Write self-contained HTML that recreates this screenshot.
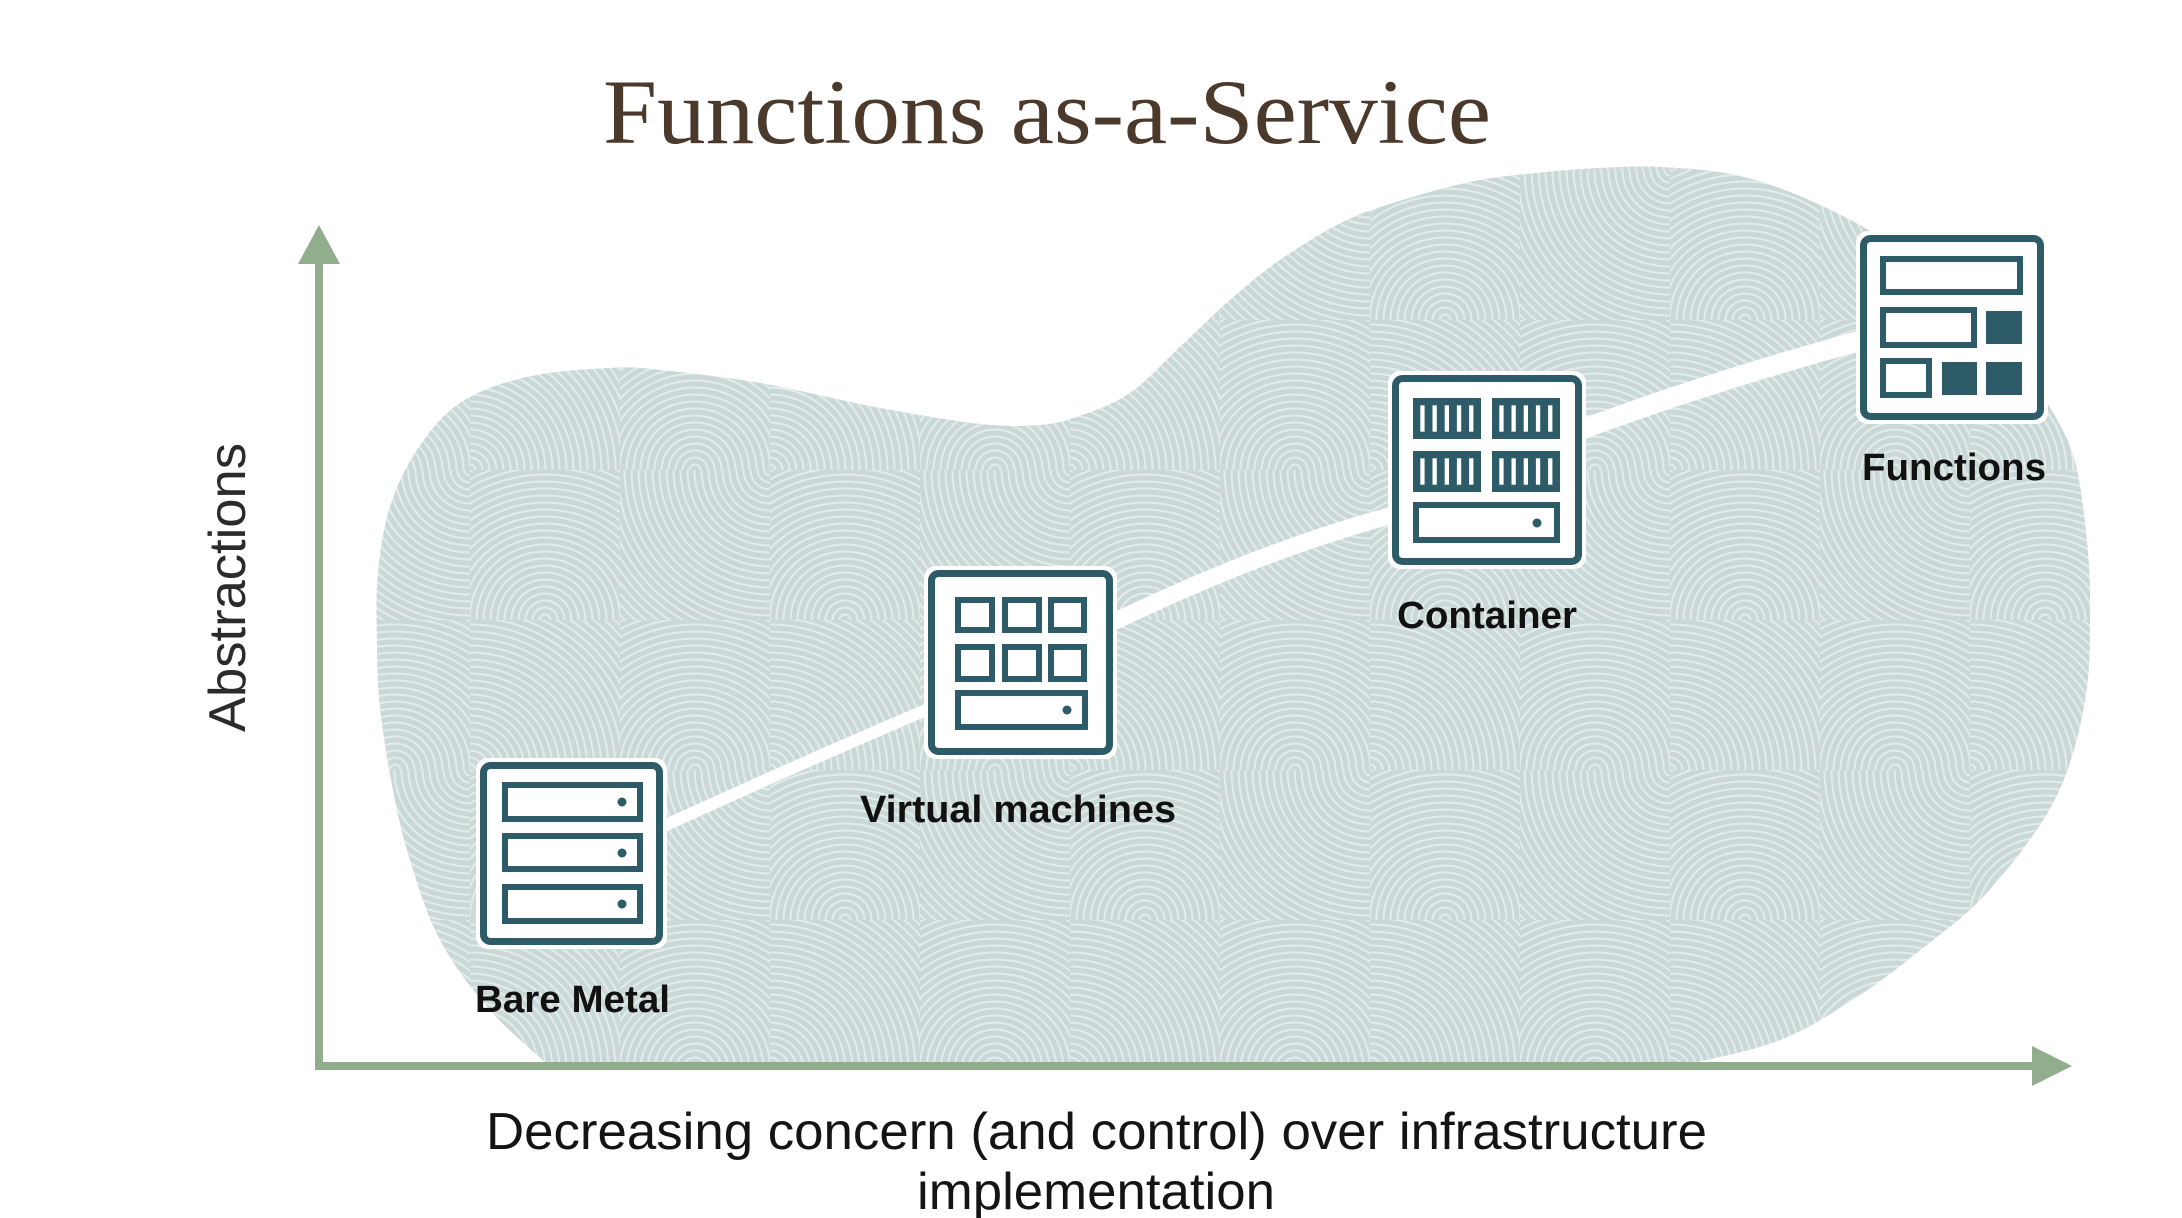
<!DOCTYPE html>
<html>
<head>
<meta charset="utf-8">
<style>
  html, body { margin: 0; padding: 0; background: #ffffff; }
  body { width: 2182px; height: 1218px; overflow: hidden; }
  svg { display: block; }
</style>
</head>
<body>
<svg width="2182" height="1218" viewBox="0 0 2182 1218" xmlns="http://www.w3.org/2000/svg">
  <defs>
    <radialGradient id="r1" gradientUnits="userSpaceOnUse" cx="75" cy="150" r="7" spreadMethod="repeat">
      <stop offset="0" stop-color="#cad9d7"/><stop offset="0.6" stop-color="#cad9d7"/>
      <stop offset="0.66" stop-color="#e2ecea"/><stop offset="0.9" stop-color="#e2ecea"/>
      <stop offset="0.96" stop-color="#cad9d7"/><stop offset="1" stop-color="#cad9d7"/>
    </radialGradient>
    <radialGradient id="r2" gradientUnits="userSpaceOnUse" cx="150" cy="150" r="7" spreadMethod="repeat">
      <stop offset="0" stop-color="#cad9d7"/><stop offset="0.6" stop-color="#cad9d7"/>
      <stop offset="0.66" stop-color="#e2ecea"/><stop offset="0.9" stop-color="#e2ecea"/>
      <stop offset="0.96" stop-color="#cad9d7"/><stop offset="1" stop-color="#cad9d7"/>
    </radialGradient>
    <radialGradient id="r3" gradientUnits="userSpaceOnUse" cx="150" cy="150" r="7" spreadMethod="repeat">
      <stop offset="0" stop-color="#cad9d7"/><stop offset="0.6" stop-color="#cad9d7"/>
      <stop offset="0.66" stop-color="#e2ecea"/><stop offset="0.9" stop-color="#e2ecea"/>
      <stop offset="0.96" stop-color="#cad9d7"/><stop offset="1" stop-color="#cad9d7"/>
    </radialGradient>
    <radialGradient id="r4" gradientUnits="userSpaceOnUse" cx="225" cy="300" r="7" spreadMethod="repeat">
      <stop offset="0" stop-color="#cad9d7"/><stop offset="0.6" stop-color="#cad9d7"/>
      <stop offset="0.66" stop-color="#e2ecea"/><stop offset="0.9" stop-color="#e2ecea"/>
      <stop offset="0.96" stop-color="#cad9d7"/><stop offset="1" stop-color="#cad9d7"/>
    </radialGradient>
    <pattern id="tex" patternUnits="userSpaceOnUse" x="20" y="20" width="300" height="300">
      <rect x="0" y="0" width="150" height="150" fill="url(#r1)"/>
      <rect x="150" y="0" width="150" height="150" fill="url(#r2)"/>
      <rect x="0" y="150" width="150" height="150" fill="url(#r3)"/>
      <rect x="150" y="150" width="150" height="150" fill="url(#r4)"/>
    </pattern>
    <clipPath id="abovex">
      <rect x="0" y="0" width="2182" height="1066"/>
    </clipPath>
  </defs>

  <!-- Title -->
  <text x="603" y="143" font-family="'Liberation Serif', 'DejaVu Serif', serif" font-size="92" fill="#4b3a2c" textLength="888" lengthAdjust="spacingAndGlyphs">Functions as-a-Service</text>

  <!-- Blob -->
  <g clip-path="url(#abovex)">
    <path id="blobA" fill="#cfdcda" d="M549,1066 L490,1010 L440,940 L410,860 L393,790 L380,707 L377,640 L378,573 L390,507 L417,450 L460,403 L527,377 L610,368 L660,370 L760,383 L880,408 L980,424 L1040,425 L1080,416 L1130,393 L1180,347 L1230,300 L1280,260 L1347,220 L1413,197 L1480,180 L1547,172 L1600,168 L1660,167 L1740,176 L1820,205 L1900,250 L1970,310 L2030,380 L2060,425 L2077,470 L2088,553 L2090,620 L2087,687 L2073,753 L2053,803 L2020,853 L1977,903 L1933,940 L1860,995 L1780,1040 L1682,1066 Z"/>
    <path id="blobB" fill="url(#tex)" d="M549,1066 L490,1010 L440,940 L410,860 L393,790 L380,707 L377,640 L378,573 L390,507 L417,450 L460,403 L527,377 L610,368 L660,370 L760,383 L880,408 L980,424 L1040,425 L1080,416 L1130,393 L1180,347 L1230,300 L1280,260 L1347,220 L1413,197 L1480,180 L1547,172 L1600,168 L1660,167 L1740,176 L1820,205 L1900,250 L1970,310 L2030,380 L2060,425 L2077,470 L2088,553 L2090,620 L2087,687 L2073,753 L2053,803 L2020,853 L1977,903 L1933,940 L1860,995 L1780,1040 L1682,1066 Z"/>
  </g>

  <!-- White curve -->
  <path d="M655,830 Q790,768 940,704" fill="none" stroke="#ffffff" stroke-width="12" stroke-linecap="round"/>
  <path d="M1105,626 C1180,590 1280,545 1400,513" fill="none" stroke="#ffffff" stroke-width="17" stroke-linecap="round"/>
  <path d="M1575,432 C1660,400 1760,368 1870,338" fill="none" stroke="#ffffff" stroke-width="20" stroke-linecap="round"/>

  <!-- Axes -->
  <rect x="315" y="262" width="8" height="808" fill="#90ae8c"/>
  <polygon points="298,264 340,264 319,225" fill="#90ae8c"/>
  <rect x="315" y="1062" width="1720" height="8" fill="#90ae8c"/>
  <polygon points="2032,1046 2032,1086 2072,1066" fill="#90ae8c"/>

  <!-- Bare Metal icon -->
  <g>
    <rect x="476" y="758" width="191" height="191" rx="12" fill="#ffffff"/>
    <rect x="483.5" y="765.5" width="176" height="176" rx="7" fill="#ffffff" stroke="#2d5c68" stroke-width="7"/>
    <rect x="505" y="785" width="135" height="34" fill="none" stroke="#2d5c68" stroke-width="6"/>
    <rect x="505" y="836" width="135" height="33" fill="none" stroke="#2d5c68" stroke-width="6"/>
    <rect x="505" y="887" width="135" height="34" fill="none" stroke="#2d5c68" stroke-width="6"/>
    <circle cx="622" cy="802" r="4.5" fill="#2d5c68"/>
    <circle cx="622" cy="853" r="4.5" fill="#2d5c68"/>
    <circle cx="622" cy="904" r="4.5" fill="#2d5c68"/>
  </g>

  <!-- Virtual machines icon -->
  <g>
    <rect x="924" y="566" width="193" height="193" rx="12" fill="#ffffff"/>
    <rect x="931.5" y="573.5" width="178" height="178" rx="7" fill="#ffffff" stroke="#2d5c68" stroke-width="7"/>
    <rect x="958" y="600" width="34" height="30" fill="none" stroke="#2d5c68" stroke-width="6"/>
    <rect x="1005" y="600" width="34" height="30" fill="none" stroke="#2d5c68" stroke-width="6"/>
    <rect x="1051" y="600" width="33" height="30" fill="none" stroke="#2d5c68" stroke-width="6"/>
    <rect x="958" y="647" width="34" height="32" fill="none" stroke="#2d5c68" stroke-width="6"/>
    <rect x="1005" y="647" width="34" height="32" fill="none" stroke="#2d5c68" stroke-width="6"/>
    <rect x="1051" y="647" width="33" height="32" fill="none" stroke="#2d5c68" stroke-width="6"/>
    <rect x="958" y="693" width="127" height="34" fill="none" stroke="#2d5c68" stroke-width="6"/>
    <circle cx="1067" cy="710" r="4.5" fill="#2d5c68"/>
  </g>

  <!-- Container icon -->
  <g>
    <rect x="1388" y="371" width="198" height="198" rx="12" fill="#ffffff"/>
    <rect x="1395.5" y="378.5" width="183" height="183" rx="7" fill="#ffffff" stroke="#2d5c68" stroke-width="7"/>
    <rect x="1413" y="398" width="68" height="41" fill="#2d5c68"/>
    <rect x="1492" y="398" width="68" height="41" fill="#2d5c68"/>
    <rect x="1413" y="451" width="68" height="41" fill="#2d5c68"/>
    <rect x="1492" y="451" width="68" height="41" fill="#2d5c68"/>
    <g fill="#ffffff">
      <rect x="1420.3" y="405.3" width="4.3" height="26.4"/>
      <rect x="1432.5" y="405.3" width="4.3" height="26.4"/>
      <rect x="1444.7" y="405.3" width="4.3" height="26.4"/>
      <rect x="1456.9" y="405.3" width="4.3" height="26.4"/>
      <rect x="1469.1" y="405.3" width="4.3" height="26.4"/>
      <rect x="1499.3" y="405.3" width="4.3" height="26.4"/>
      <rect x="1511.5" y="405.3" width="4.3" height="26.4"/>
      <rect x="1523.7" y="405.3" width="4.3" height="26.4"/>
      <rect x="1535.9" y="405.3" width="4.3" height="26.4"/>
      <rect x="1548.1" y="405.3" width="4.3" height="26.4"/>
      <rect x="1420.3" y="458.3" width="4.3" height="26.4"/>
      <rect x="1432.5" y="458.3" width="4.3" height="26.4"/>
      <rect x="1444.7" y="458.3" width="4.3" height="26.4"/>
      <rect x="1456.9" y="458.3" width="4.3" height="26.4"/>
      <rect x="1469.1" y="458.3" width="4.3" height="26.4"/>
      <rect x="1499.3" y="458.3" width="4.3" height="26.4"/>
      <rect x="1511.5" y="458.3" width="4.3" height="26.4"/>
      <rect x="1523.7" y="458.3" width="4.3" height="26.4"/>
      <rect x="1535.9" y="458.3" width="4.3" height="26.4"/>
      <rect x="1548.1" y="458.3" width="4.3" height="26.4"/>
    </g>
    <rect x="1416" y="505" width="141" height="35" fill="none" stroke="#2d5c68" stroke-width="6"/>
    <circle cx="1537" cy="523" r="4.5" fill="#2d5c68"/>
  </g>

  <!-- Functions icon -->
  <g>
    <rect x="1856" y="231" width="192" height="193" rx="12" fill="#ffffff"/>
    <rect x="1863.5" y="238.5" width="177" height="178" rx="7" fill="#ffffff" stroke="#2d5c68" stroke-width="7"/>
    <rect x="1883" y="259" width="137" height="33" fill="none" stroke="#2d5c68" stroke-width="6"/>
    <rect x="1883" y="310" width="91" height="35" fill="none" stroke="#2d5c68" stroke-width="6"/>
    <rect x="1986" y="311" width="36" height="33" fill="#2d5c68"/>
    <rect x="1883" y="361" width="46" height="34" fill="none" stroke="#2d5c68" stroke-width="6"/>
    <rect x="1942" y="362" width="35" height="33" fill="#2d5c68"/>
    <rect x="1986" y="362" width="36" height="33" fill="#2d5c68"/>
  </g>

  <!-- Labels -->
  <g font-family="'Liberation Sans', Arial, sans-serif" font-weight="bold" font-size="38" fill="#111111">
    <text x="475" y="1012" textLength="195" lengthAdjust="spacingAndGlyphs">Bare Metal</text>
    <text x="860" y="822" textLength="316" lengthAdjust="spacingAndGlyphs">Virtual machines</text>
    <text x="1397" y="628" textLength="180" lengthAdjust="spacingAndGlyphs">Container</text>
    <text x="1862" y="480" textLength="184" lengthAdjust="spacingAndGlyphs">Functions</text>
  </g>

  <!-- Axis labels -->
  <text transform="translate(245,732) rotate(-90)" x="0" y="0" font-family="'Liberation Sans', Arial, sans-serif" font-size="52" fill="#2b2b2b" textLength="289" lengthAdjust="spacingAndGlyphs">Abstractions</text>

  <g font-family="'Liberation Sans', Arial, sans-serif" font-size="52" fill="#141414">
    <text x="486" y="1149" textLength="1221" lengthAdjust="spacingAndGlyphs">Decreasing concern (and control) over infrastructure</text>
    <text x="917" y="1209" textLength="358" lengthAdjust="spacingAndGlyphs">implementation</text>
  </g>
</svg>
<script>
(function () {
  var P = [[549,1066],[490,1010],[440,940],[410,860],[393,790],[380,707],[377,640],[378,573],[390,507],[417,450],[460,403],[527,377],[610,368],[660,370],[760,383],[880,408],[980,424],[1040,425],[1080,416],[1130,393],[1180,347],[1230,300],[1280,260],[1347,220],[1413,197],[1480,180],[1547,172],[1600,168],[1660,167],[1740,176],[1820,205],[1900,250],[1970,310],[2030,380],[2060,425],[2077,470],[2088,553],[2090,620],[2087,687],[2073,753],[2053,803],[2020,853],[1977,903],[1933,940],[1860,995],[1780,1040],[1682,1066]];
  var n = P.length;
  function pt(i) {
    if (i < 0) return [2 * P[0][0] - P[1][0], 2 * P[0][1] - P[1][1]];
    if (i >= n) return [2 * P[n - 1][0] - P[n - 2][0], 2 * P[n - 1][1] - P[n - 2][1]];
    return P[i];
  }
  var d = "M" + P[0][0] + "," + P[0][1];
  for (var i = 0; i < n - 1; i++) {
    var p0 = pt(i - 1), p1 = pt(i), p2 = pt(i + 1), p3 = pt(i + 2);
    var c1x = p1[0] + (p2[0] - p0[0]) / 6, c1y = p1[1] + (p2[1] - p0[1]) / 6;
    var c2x = p2[0] - (p3[0] - p1[0]) / 6, c2y = p2[1] - (p3[1] - p1[1]) / 6;
    d += " C" + c1x.toFixed(1) + "," + c1y.toFixed(1) + " " + c2x.toFixed(1) + "," + c2y.toFixed(1) + " " + p2[0] + "," + p2[1];
  }
  d += " L1682,1080 L549,1080 Z";
  document.getElementById("blobA").setAttribute("d", d);
  document.getElementById("blobB").setAttribute("d", d);
})();
</script>
</body>
</html>
